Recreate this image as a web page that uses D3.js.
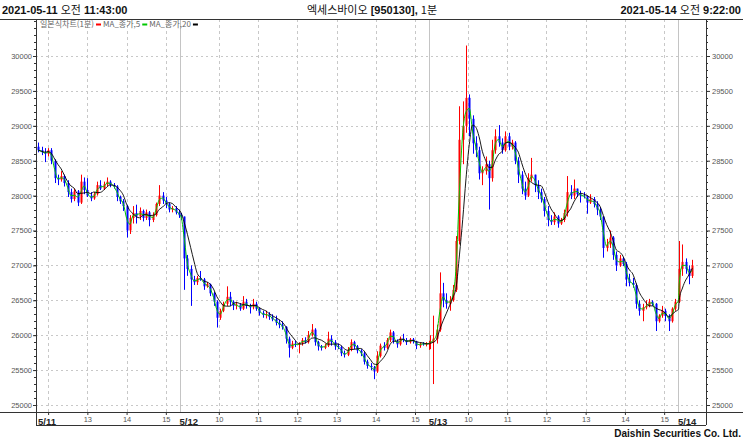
<!DOCTYPE html>
<html lang="ko">
<head>
<meta charset="UTF-8">
<title>엑세스바이오 [950130], 1분</title>
<script src="https://d3js.org/d3.v7.min.js"></script>
<style>
  body { margin: 0; background: #fff; }
  svg { display: block; font-family: "Liberation Sans", Arial, "Noto Sans CJK KR", sans-serif; }
</style>
</head>
<body>
<svg width="743" height="442"></svg>
<script>
// sessions shown on the chart
const dayLabels   = ["5/11", "5/12", "5/13", "5/14"];
const sessionFrom = ["11:43", "09:00", "09:00", "09:00"];
const sessionTo   = ["15:20", "15:20", "15:20", "09:22"];
const barMinutes = 5; // one candle per 5 minutes

const priceTicks = [25000, 25500, 26000, 26500, 27000, 27500, 28000, 28500, 29000, 29500, 30000];

// [open, high, low, close]
const day511 = [
  [28700,28760,28620,28650],[28650,28700,28580,28620],[28620,28680,28480,28600],[28600,28680,28560,28650],
  [28650,28680,28450,28500],[28500,28520,28180,28250],[28250,28300,28150,28230],[28230,28350,28200,28280],
  [28280,28300,28130,28180],[28180,28220,27980,28050],[28050,28100,27900,27950],[27950,28100,27920,28060],
  [28060,28080,27850,27900],[27900,28300,27880,28200],[28200,28260,28020,28080],[28080,28250,27980,28000],
  [28000,28050,27920,27960],[27960,28050,27940,28020],[28020,28200,28000,28150],[28150,28220,28080,28100],
  [28100,28200,28080,28160],[28160,28260,28130,28200],[28200,28220,28120,28150],[28150,28180,28100,28130],
  [28130,28150,27920,27980],[27980,28000,27880,27920],[27920,27950,27780,27850],[27850,27870,27400,27500],
  [27500,27720,27450,27680],[27680,27850,27600,27750],[27750,27870,27600,27700],[27700,27830,27650,27780],
  [27780,27800,27630,27680],[27680,27800,27650,27760],[27760,27780,27560,27650],[27650,27760,27620,27720],
  [27720,27900,27700,27880],[27880,28150,27850,28000],[28000,28050,27880,27930],[27930,27980,27820,27880],
  [27880,27900,27760,27800],[27800,27850,27760,27820],[27820,27850,27730,27760],[27760,27800,27680,27720]
];
const day512 = [
  [27720,27750,27650,27700],[27700,27700,26650,27100],[27100,27150,26850,26950],[26950,27000,26420,26800],
  [26800,26850,26720,26760],[26760,26850,26720,26820],[26820,26920,26780,26800],[26800,26820,26650,26700],
  [26700,26760,26680,26730],[26730,26740,26560,26600],[26600,26620,26420,26480],[26480,26500,26110,26250],
  [26250,26380,26220,26350],[26350,26480,26330,26450],[26450,26700,26420,26550],[26550,26620,26420,26480],
  [26480,26500,26360,26420],[26420,26480,26370,26440],[26440,26460,26350,26380],[26380,26560,26360,26480],
  [26480,26520,26380,26420],[26420,26450,26310,26400],[26400,26520,26370,26450],[26450,26480,26350,26380],
  [26380,26400,26280,26320],[26320,26350,26250,26290],[26290,26350,26240,26300],[26300,26330,26220,26260],
  [26260,26300,26200,26230],[26230,26280,26140,26180],[26180,26220,26100,26150],[26150,26200,26080,26120],
  [26120,26130,25880,25950],[25950,25980,25680,25820],[25820,25920,25800,25880],[25880,25920,25830,25860],
  [25860,25900,25740,25880],[25880,25960,25850,25930],[25930,25970,25880,25900],[25900,26060,25880,26000],
  [26000,26160,25980,26080],[26080,26100,25850,25900],[25900,25920,25780,25840],[25840,25860,25780,25820],
  [25820,25880,25800,25850],[25850,26050,25830,25950],[25950,26000,25850,25900],[25900,25930,25790,25840],
  [25840,25880,25800,25830],[25830,25850,25700,25740],[25740,25780,25680,25720],[25720,25830,25700,25790],
  [25790,25940,25770,25900],[25900,25920,25800,25840],[25840,25860,25740,25780],[25780,25800,25700,25740],
  [25740,25760,25580,25620],[25620,25650,25520,25560],[25560,25600,25500,25540],[25540,25560,25370,25480],
  [25480,25770,25460,25700],[25700,25880,25680,25850],[25850,25900,25780,25820],[25820,25960,25800,25930],
  [25930,26080,25900,26040],[26040,26060,25880,25920],[25920,25940,25820,25870],[25870,25980,25850,25950],
  [25950,26020,25900,25930],[25930,25960,25860,25900],[25900,25960,25880,25940],[25940,25960,25880,25910],
  [25910,25920,25800,25850],[25850,25890,25820,25880],[25880,25900,25850,25870],[25870,25900,25840,25880],
  [25880,25920,25790,25890]
];
const day513 = [
  [25880,26000,25800,25900],[25900,26280,25300,25950],[25950,26150,25880,26080],[26080,26900,26050,26600],
  [26600,26750,26400,26500],[26500,26600,26380,26450],[26450,26560,26350,26500],[26500,26720,26480,26650],
  [26650,27420,26620,27350],[27350,29280,27300,28800],[28800,29350,28450,29000],[29000,30150,28900,29400],
  [29400,29450,28850,29100],[29100,29150,28600,28750],[28750,28850,28550,28650],[28650,28700,28230,28320],
  [28320,28420,28150,28350],[28350,28560,28300,28450],[28450,28500,27800,28250],[28250,28800,28200,28650],
  [28650,28950,28600,28850],[28850,29010,28700,28760],[28760,28820,28600,28650],[28650,28920,28630,28850],
  [28850,28900,28650,28700],[28700,28800,28660,28760],[28760,28780,28450,28500],[28500,28550,28180,28300],
  [28300,28350,28020,28100],[28100,28200,27940,28000],[28000,28320,27980,28250],[28250,28540,28200,28300],
  [28300,28300,28050,28150],[28150,28220,27950,28050],[28050,28100,27900,27950],[27950,27980,27700,27780],
  [27780,27850,27560,27650],[27650,27720,27580,27620],[27620,27760,27580,27700],[27700,27720,27540,27600],
  [27600,27680,27580,27650],[27650,27800,27620,27750],[27750,28280,27700,28050],[28050,28150,27950,28000],
  [28000,28230,27950,28100],[28100,28100,27980,28020],[28020,28070,27900,28000],[28000,28050,27960,27990],
  [27990,28000,27740,27900],[27900,28020,27880,27950],[27950,27980,27830,27880],[27880,27920,27720,27800],
  [27800,27830,27650,27700],[27700,27700,27110,27250],[27250,27380,27200,27300],[27300,27500,27250,27400],
  [27400,27420,27080,27150],[27150,27200,26920,27000],[27000,27150,26980,27100],[27100,27120,26990,27020],
  [27020,27050,26700,26800],[26800,26880,26700,26750],[26750,26820,26680,26720],[26720,26740,26380,26450],
  [26450,26500,26280,26350],[26350,26450,26200,26400],[26400,26500,26370,26420],[26420,26520,26400,26480],
  [26480,26500,26420,26450],[26450,26460,26060,26200],[26200,26300,26180,26280],[26280,26420,26250,26350],
  [26350,26380,26200,26280],[26280,26300,26060,26200],[26200,26400,26180,26380],[26380,26520,26350,26480],
  [26480,26550,26460,26520]
];
const day514 = [
  [26520,27350,26500,26950],[26950,27300,26850,27050],[27050,27100,26880,26950],[26950,27000,26730,26850],
  [26850,27080,26820,27000]
];
const dayBars = [day511, day512, day513, day514];

const svg = d3.select("svg");
const W = 743;
const frame = { left: 36, right: 706, top: 19, axis: 412, bottom: 425 };
const gridColor = "#c8c8c8";
const labelColor = "#555";

const toMin = s => +s.slice(0, 2) * 60 + +s.slice(3);

// minute index of each session start, sessions placed back to back
const dayStart = [];
let total = 0;
sessionFrom.forEach((f, i) => {
  dayStart.push(total);
  total += toMin(sessionTo[i]) - toMin(f) + 1;
});

const bars = [];
dayBars.forEach((list, d) => {
  list.forEach((b, k) => {
    bars.push({ m: dayStart[d] + k * barMinutes, o: b[0], h: b[1], l: b[2], c: b[3] });
  });
});

const x = d3.scaleLinear().domain([0, 1023]).range([37, 706]);
const y = d3.scaleLinear().domain([25000, 30000]).range([405, 56]);
const cx = d => x(d.m + (barMinutes - 1) / 2);

// hour ticks
const hourTicks = [];
sessionFrom.forEach((f, d) => {
  const from = toMin(f), to = toMin(sessionTo[d]);
  for (let h = 10; h <= 15; h++) {
    if (h * 60 > from && h * 60 <= to) hourTicks.push({ m: dayStart[d] + h * 60 - from, h: h, d: d });
  }
});

// ---- grid ----
const grid = svg.append("g");
grid.selectAll(".hg").data(priceTicks).enter().append("line")
  .attr("x1", frame.left).attr("x2", frame.right)
  .attr("y1", d => Math.round(y(d)) + 0.5).attr("y2", d => Math.round(y(d)) + 0.5)
  .attr("stroke", gridColor).attr("stroke-dasharray", "2,3");
grid.selectAll(".vg").data(hourTicks).enter().append("line")
  .attr("x1", d => Math.round(x(d.m)) + 0.5).attr("x2", d => Math.round(x(d.m)) + 0.5)
  .attr("y1", frame.top).attr("y2", frame.axis)
  .attr("stroke", gridColor).attr("stroke-dasharray", "3,3");
grid.selectAll(".dg").data(dayStart.slice(1)).enter().append("line")
  .attr("x1", d => Math.round(x(d)) + 0.5).attr("x2", d => Math.round(x(d)) + 0.5)
  .attr("y1", frame.top).attr("y2", frame.axis)
  .attr("stroke", "#c4c4c4");

// ---- candles ----
const candles = svg.append("g").selectAll("g").data(bars).enter().append("g")
  .attr("stroke", d => d.c >= d.o ? "#ff0000" : "#0000ff")
  .attr("fill", d => d.c >= d.o ? "#ff0000" : "#0000ff");
candles.append("line")
  .attr("x1", d => Math.round(cx(d)) + 0.5).attr("x2", d => Math.round(cx(d)) + 0.5)
  .attr("y1", d => y(d.h)).attr("y2", d => y(d.l));
candles.append("rect")
  .attr("stroke", "none")
  .attr("x", d => Math.round(cx(d)) - 0.5)
  .attr("width", 2)
  .attr("y", d => y(Math.max(d.o, d.c)))
  .attr("height", d => Math.max(1, Math.abs(y(d.o) - y(d.c))));

// ---- moving averages ----
const closes = bars.map(d => d.c);
function movingAvg(n) {
  return bars.map((d, i) => ({ m: d.m, v: d3.mean(closes.slice(Math.max(0, i - n + 1), i + 1)) }));
}
const line = d3.line().x(cx).y(d => y(d.v)).curve(d3.curveMonotoneX);
svg.append("path").datum(movingAvg(2)).attr("d", line)
  .attr("fill", "none").attr("stroke", "#00c800").attr("stroke-width", 1);
svg.append("path").datum(movingAvg(5)).attr("d", line)
  .attr("fill", "none").attr("stroke", "#000").attr("stroke-width", 0.9);

// ---- frame ----
const fr = svg.append("g").attr("stroke", "#333").attr("shape-rendering", "crispEdges");
fr.append("line").attr("x1", 0).attr("x2", W).attr("y1", frame.top).attr("y2", frame.top);
fr.append("line").attr("x1", 0).attr("x2", W).attr("y1", frame.axis).attr("y2", frame.axis);
fr.append("line").attr("x1", frame.left).attr("x2", frame.right).attr("y1", frame.bottom).attr("y2", frame.bottom);
fr.append("line").attr("x1", frame.left).attr("x2", frame.left).attr("y1", frame.top).attr("y2", frame.bottom);
fr.append("line").attr("x1", frame.right).attr("x2", frame.right).attr("y1", frame.top).attr("y2", frame.bottom);

// ---- price axes ----
const minorTicks = d3.range(24900, 30600, 100);
const axL = svg.append("g").attr("transform", `translate(${frame.left},0)`)
  .call(d3.axisLeft(y).tickValues(priceTicks).tickSize(3).tickPadding(1).tickFormat(d3.format("d")));
const axR = svg.append("g").attr("transform", `translate(${frame.right},0)`)
  .call(d3.axisRight(y).tickValues(priceTicks).tickSize(4).tickPadding(2).tickFormat(d3.format("d")));
[axL, axR].forEach(a => {
  a.select(".domain").remove();
  a.selectAll("line").attr("stroke", "#333");
  a.selectAll("text").attr("fill", labelColor).style("font-size", "7.5px").style("font-family", "Liberation Sans, Arial");
});
svg.append("g").selectAll("line").data(minorTicks).enter().append("line")
  .attr("x1", frame.left - 2).attr("x2", frame.left)
  .attr("y1", d => Math.round(y(d)) + 0.5).attr("y2", d => Math.round(y(d)) + 0.5)
  .attr("stroke", "#333");
svg.append("g").selectAll("line").data(minorTicks).enter().append("line")
  .attr("x1", frame.right).attr("x2", frame.right + 2)
  .attr("y1", d => Math.round(y(d)) + 0.5).attr("y2", d => Math.round(y(d)) + 0.5)
  .attr("stroke", "#333");

// ---- time axis ----
const dayX = dayStart.map(m => x(m));
const axB = svg.append("g").attr("transform", `translate(0,${frame.axis})`)
  .call(d3.axisBottom(x).tickValues(hourTicks.map(d => d.m)).tickSize(3).tickPadding(2)
    .tickFormat((m, i) => {
      const t = hourTicks[i];
      return Math.abs(x(m) - dayX[t.d]) < 18 ? "" : t.h;
    }));
axB.select(".domain").remove();
axB.selectAll("line").attr("stroke", "#333");
axB.selectAll("text").attr("fill", labelColor).style("font-size", "7.5px");

svg.append("g").selectAll("text").data(dayLabels).enter().append("text")
  .attr("x", (d, i) => i === 0 ? dayX[i] + 1 : dayX[i])
  .attr("y", 425)
  .attr("font-size", 9.5).attr("font-weight", "bold").attr("fill", "#222")
  .text(d => d);

// ---- header ----
function header(xPos, anchor, parts) {
  const t = svg.append("text").attr("x", xPos).attr("y", 14).attr("text-anchor", anchor)
    .attr("font-size", 11).attr("fill", "#111");
  parts.forEach(p => t.append("tspan").attr("font-weight", p[1] ? "bold" : "normal")
    .attr("font-family", p[1] ? "Liberation Sans, Arial" : "Noto Sans CJK KR").text(p[0]));
}
header(2, "start", [["2021-05-11 ", 1], ["오전", 0], [" 11:43:00", 1]]);
header(372, "middle", [["엑세스바이오 ", 0], ["[950130], ", 1], ["1분", 0]]);
header(741, "end", [["2021-05-14 ", 1], ["오전", 0], [" 9:22:00", 1]]);

// ---- legend ----
const legendItems = [
  { label: "일본식차트(1분)", color: "#ff0000" },
  { label: "MA_종가,5", color: "#00c800" },
  { label: "MA_종가,20", color: "#000" }
];
const lg = svg.append("g").attr("transform", "translate(40,27)");
let lx = 0;
legendItems.forEach(it => {
  const t = lg.append("text").attr("x", lx).attr("y", 0).attr("font-size", 8)
    .attr("font-family", "Noto Sans CJK KR").attr("fill", "#666").text(it.label);
  lx += t.node().getComputedTextLength() + 2;
  lg.append("rect").attr("x", lx).attr("y", -3.5).attr("width", 5).attr("height", 2).attr("fill", it.color);
  lx += 7;
});

// ---- footer ----
svg.append("text").attr("x", 741).attr("y", 437).attr("text-anchor", "end")
  .attr("font-size", 10).attr("font-weight", "bold").attr("fill", "#111")
  .text("Daishin Securities Co. Ltd.");
</script>
</body>
</html>
